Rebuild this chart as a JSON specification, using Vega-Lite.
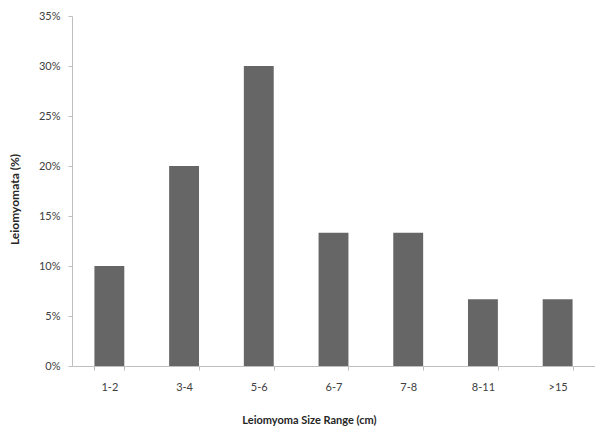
{
  "$schema": "https://vega.github.io/schema/vega-lite/v6.json",
  "width": 523,
  "height": 350,
  "autosize": {"type": "none"},
  "padding": {"left": 72, "top": 16, "right": 0, "bottom": 61},
  "background": "white",
  "data": {
    "values": [
      {"range": "1-2", "share": 0.1},
      {"range": "3-4", "share": 0.2},
      {"range": "5-6", "share": 0.3},
      {"range": "6-7", "share": 0.1333},
      {"range": "7-8", "share": 0.1333},
      {"range": "8-11", "share": 0.0667},
      {"range": ">15", "share": 0.0667}
    ]
  },
  "mark": {"type": "bar", "color": "#666666"},
  "encoding": {
    "x": {
      "field": "range",
      "type": "nominal",
      "sort": null,
      "scale": {"paddingInner": 0.6, "paddingOuter": 0.3},
      "axis": {
        "title": "Leiomyoma Size Range (cm)",
        "labelAngle": 0,
        "tickBand": "extent",
        "tickSize": 4,
        "labelPadding": 11,
        "titlePadding": 22,
        "titleX": 237
      }
    },
    "y": {
      "field": "share",
      "type": "quantitative",
      "scale": {"domain": [0, 0.35], "nice": false},
      "axis": {
        "title": "Leiomyomata (%)",
        "format": ".0%",
        "values": [0, 0.05, 0.1, 0.15, 0.2, 0.25, 0.3, 0.35],
        "grid": false,
        "tickSize": 4,
        "labelPadding": 8,
        "titlePadding": 17,
        "titleY": 183,
        "titleFontSize": 12
      }
    }
  },
  "config": {
    "view": {"stroke": null},
    "font": "Lato",
    "axis": {
      "domainColor": "#bfbfbf",
      "tickColor": "#bfbfbf",
      "labelColor": "#404040",
      "labelFont": "Lato",
      "labelFontSize": 11,
      "titleFont": "Lato",
      "titleFontSize": 11,
      "titleFontWeight": "bold",
      "titleColor": "#262626"
    }
  }
}
